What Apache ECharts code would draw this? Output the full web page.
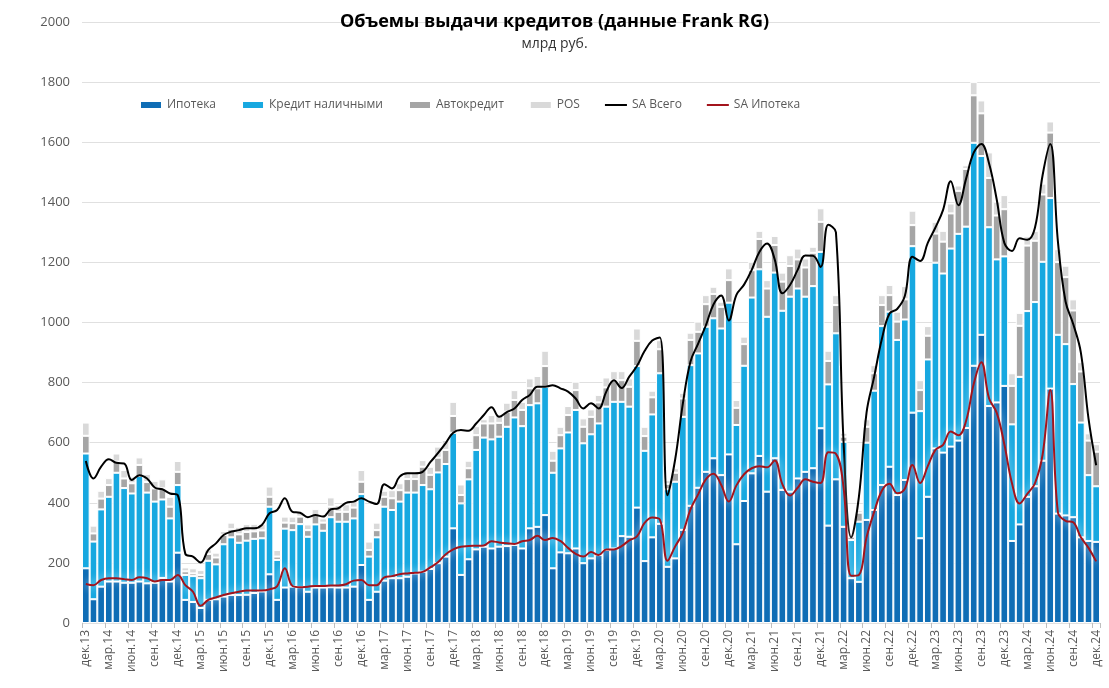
<!DOCTYPE html>
<html>
<head>
<meta charset="utf-8">
<script src="https://cdn.jsdelivr.net/npm/echarts@6/dist/echarts.min.js"></script>
<style>
html,body{margin:0;padding:0;background:#fff;}
#chart{width:1109px;height:688px;}
</style>
</head>
<body>
<div id="chart"></div>
<script>
// Month abbreviations and years used for category labels (дек.13 ... дек.24)
const monthNames = ['янв','фев','мар','апр','май','июн','июл','авг','сен','окт','ноя','дек'];
const startYear = 13, startMonth = 11, monthCount = 133;

const seriesNames = ['Ипотека','Кредит наличными','Автокредит','POS','SA Всего','SA Ипотека'];

// Ипотека (mortgage), млрд руб.
const mortgage = [
182,79,121,138,138,134,134,138,132,134,150,138,234,
77,70,50,77,79,88,93,93,94,100,105,162,
77,118,121,119,104,118,118,119,118,118,121,193,
77,104,141,149,149,154,165,171,180,199,221,315,
160,212,245,254,248,254,256,260,248,315,320,359,
182,235,232,248,199,215,226,243,248,289,287,384,
206,285,330,187,215,310,390,450,503,548,492,561,
262,406,498,556,437,548,443,437,481,503,515,648,
324,478,320,149,137,343,376,459,520,426,476,700,
282,420,581,567,587,607,649,856,959,722,734,789,
273,328,420,455,540,780,364,358,352,285,273,270];

// Кредит наличными (cash loans)
const cash = [
382,192,257,282,362,315,297,351,302,270,261,210,225,
83,86,99,130,116,174,192,174,180,180,177,225,
133,196,188,210,183,210,189,233,219,219,227,236,
144,181,246,227,255,280,269,288,265,302,308,318,
238,266,331,363,363,366,397,424,407,410,411,427,
318,346,402,461,399,413,438,477,488,447,433,471,
367,409,501,258,255,376,468,447,483,466,488,505,
397,450,585,621,582,618,596,649,632,583,606,587,
470,486,283,127,200,257,397,529,516,516,534,554,
423,457,618,596,659,688,670,742,595,595,476,431,
388,491,618,613,662,634,595,570,443,382,219,185];

// Автокредит (car loans)
const auto = [
59,27,36,39,37,32,34,37,35,44,37,39,44,
12,9,11,23,23,31,27,28,29,25,26,33,
11,20,23,25,22,31,27,35,33,33,36,41,
22,24,33,39,38,45,45,61,48,49,47,56,
28,37,49,47,53,46,50,58,54,56,50,69,
40,44,58,66,55,58,70,64,72,72,66,84,
49,57,80,18,30,61,84,72,75,81,72,75,
57,72,91,101,94,92,97,102,97,97,111,100,
78,94,17,11,30,53,58,70,55,61,67,70,
70,79,97,106,117,143,192,158,142,164,146,157,
128,170,218,204,224,218,242,223,245,170,115,115];

// POS loans
const pos = [
44,26,26,23,27,28,22,25,27,25,30,33,36,
13,17,16,15,16,13,22,25,26,25,22,34,
22,20,22,16,19,20,14,31,23,25,25,39,
28,25,20,27,23,27,24,22,27,37,33,47,
35,25,30,14,28,26,30,33,27,33,41,51,
33,28,30,28,28,25,25,33,30,30,28,41,
31,22,30,12,15,19,24,34,30,24,17,39,
26,25,28,27,28,30,30,36,36,30,20,45,
34,33,13,8,9,25,27,33,34,33,44,48,
33,32,39,36,33,18,12,44,43,85,46,47,
42,43,31,33,36,37,43,38,37,31,24,25];

// SA Всего (seasonally adjusted total)
const saTotal = [
539,481,520,545,533,531,476,492,481,451,445,431,426,
230,221,201,243,265,293,304,309,315,315,326,365,
376,415,370,367,352,359,354,378,382,400,404,415,
404,396,462,448,487,498,498,503,535,565,598,633,
642,640,664,692,718,686,702,714,742,759,786,786,
791,781,770,747,714,731,714,770,808,782,820,855,
905,940,950,425,545,730,870,930,990,1060,1090,1007,
1092,1126,1175,1235,1263,1210,1097,1125,1175,1223,1222,1185,
1325,1300,600,285,420,700,820,945,1030,1045,1088,1219,
1205,1265,1316,1375,1470,1390,1478,1565,1594,1530,1410,1265,
1238,1280,1275,1315,1490,1594,1270,1070,995,900,680,525];

// SA Ипотека (seasonally adjusted mortgage)
const saMortgage = [
130,126,143,149,149,146,143,152,149,138,143,143,160,
126,104,57,77,85,93,99,104,108,108,108,112,
123,182,123,119,121,123,123,125,125,129,141,143,
126,126,152,156,162,165,167,170,185,202,228,245,
254,256,257,258,272,268,265,263,272,276,290,276,
283,273,250,230,221,236,226,245,245,256,275,288,
333,351,344,207,255,300,378,428,478,497,460,404,
458,495,515,522,518,541,462,424,450,478,470,466,
568,563,450,157,160,285,370,440,463,432,447,526,
466,522,576,593,637,625,672,795,868,748,700,595,
465,398,430,465,560,775,368,340,335,285,250,205];

// Build category labels
const categories = [];
for (let k = 0; k < monthCount; k++) {
  const mi = (startMonth + k) % 12;
  const yy = startYear + Math.floor((startMonth + k) / 12);
  categories.push(monthNames[mi] + '.' + String(yy).padStart(2, '0'));
}

const colors = ['#0F6DB5', '#17A8E0', '#A5A5A5', '#D9D9D9', '#000000', '#A3141C'];
const lineIcon = 'path://M0,0H22V2H0Z';

const chart = echarts.init(document.getElementById('chart'), null, {renderer: 'canvas'});

function barSeries(name, data, color) {
  return {
    name: name, type: 'bar', stack: 'total', data: data,
    barCategoryGap: '0%',
    itemStyle: {color: color, borderColor: '#ffffff', borderWidth: 1},
    emphasis: {disabled: true}
  };
}

chart.setOption({
  animation: false,
  backgroundColor: '#ffffff',
  title: {
    text: 'Объемы выдачи кредитов (данные Frank RG)',
    subtext: 'млрд руб.',
    left: 'center', top: 8, itemGap: 6,
    textStyle: {fontFamily: 'Open Sans', fontWeight: 'bold', fontSize: 18, color: '#000'},
    subtextStyle: {fontFamily: 'Open Sans', fontSize: 14, color: '#333'}
  },
  legend: {
    left: 134, top: 94, itemWidth: 22, itemHeight: 8, itemGap: 25,
    textStyle: {fontFamily: 'Open Sans', fontSize: 12, color: '#595959'},
    data: [
      {name: seriesNames[0], icon: 'rect'},
      {name: seriesNames[1], icon: 'rect'},
      {name: seriesNames[2], icon: 'rect'},
      {name: seriesNames[3], icon: 'rect'},
      {name: seriesNames[4], icon: lineIcon},
      {name: seriesNames[5], icon: lineIcon}
    ]
  },
  grid: {left: 82, right: 9, top: 22, bottom: 65},
  xAxis: {
    type: 'category', data: categories, boundaryGap: true,
    axisLine: {show: false},
    axisTick: {show: true, interval: 2, length: 5, lineStyle: {color: '#bfbfbf'}},
    axisLabel: {interval: 2, rotate: 90, margin: 7, fontFamily: 'Open Sans', fontSize: 12, color: '#595959'}
  },
  yAxis: {
    type: 'value', min: 0, max: 2000, interval: 200,
    axisLine: {show: false}, axisTick: {show: false},
    axisLabel: {margin: 12, fontFamily: 'Open Sans', fontSize: 13, color: '#595959',
      formatter: function (v) { return String(v); }},
    splitLine: {lineStyle: {color: '#e0e0e0', width: 1}}
  },
  series: [
    barSeries(seriesNames[0], mortgage, colors[0]),
    barSeries(seriesNames[1], cash, colors[1]),
    barSeries(seriesNames[2], auto, colors[2]),
    barSeries(seriesNames[3], pos, colors[3]),
    {
      name: seriesNames[4], type: 'line', data: saTotal, smooth: 0.4, symbol: 'none',
      itemStyle: {color: colors[4]},
      lineStyle: {color: colors[4], width: 2}, z: 5
    },
    {
      name: seriesNames[5], type: 'line', data: saMortgage, smooth: 0.4, symbol: 'none',
      itemStyle: {color: colors[5]},
      lineStyle: {color: colors[5], width: 2, shadowColor: 'rgba(255,255,255,1)', shadowBlur: 8}, z: 6
    }
  ]
});
</script>
</body>
</html>
